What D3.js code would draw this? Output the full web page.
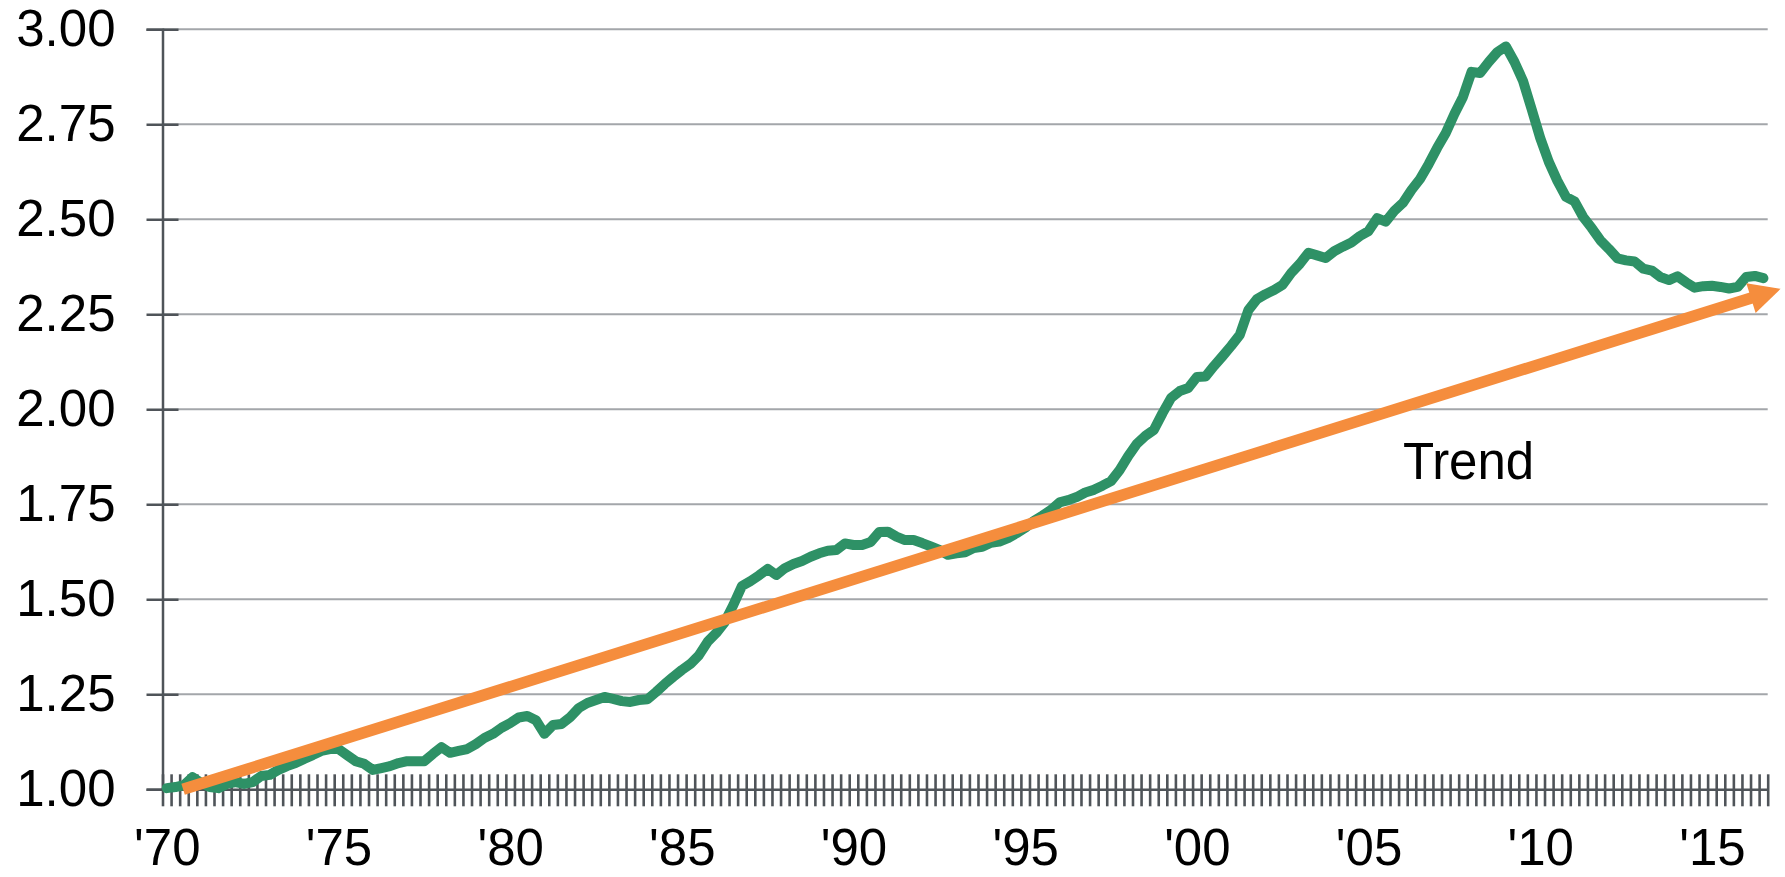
<!DOCTYPE html>
<html lang="en">
    <head>
        <meta charset="UTF-8">
        <style>
            html, body{
                margin: 0;
                padding: 0;
                background: #fff;
                font-family: 'Liberation Sans', Arial, sans-serif;
            }
            #chart text{
                font-size: 51px;
                fill: #000;
            }
        </style>
    </head>
    <body>
        <svg id="chart" width="1785" height="877"></svg>

        <script src="https://d3js.org/d3.v7.min.js"></script>
        <script>
            // quarterly index, 1970 Q1 .. 2016 Q3 (one row per year)
            const values = [
                1.003, 1.006, 1.011, 1.032,   1.017, 1.006, 1.003, 1.014,
                1.019, 1.014, 1.019, 1.035,   1.038, 1.051, 1.061, 1.069,
                1.080, 1.090, 1.101, 1.106,   1.106, 1.090, 1.074, 1.067,
                1.051, 1.056, 1.061, 1.069,   1.074, 1.074, 1.074, 1.093,
                1.111, 1.096, 1.101, 1.106,   1.119, 1.135, 1.146, 1.162,
                1.174, 1.189, 1.193, 1.182,   1.146, 1.169, 1.172, 1.190,
                1.214, 1.227, 1.235, 1.243,   1.238, 1.232, 1.230, 1.235,
                1.237, 1.256, 1.277, 1.296,   1.314, 1.330, 1.353, 1.388,
                1.411, 1.440, 1.485, 1.535,   1.548, 1.563, 1.580, 1.564,
                1.582, 1.593, 1.601, 1.612,   1.621, 1.628, 1.630, 1.647,
                1.643, 1.643, 1.651, 1.677,   1.678, 1.665, 1.656, 1.656,
                1.648, 1.639, 1.630, 1.617,   1.621, 1.624, 1.635, 1.638,
                1.649, 1.652, 1.661, 1.674,   1.688, 1.706, 1.720, 1.735,
                1.755, 1.761, 1.769, 1.781,   1.788, 1.799, 1.811, 1.840,
                1.877, 1.909, 1.930, 1.946,   1.990, 2.030, 2.048, 2.056,
                2.085, 2.086, 2.114, 2.140,   2.167, 2.196, 2.261, 2.290,
                2.303, 2.314, 2.328, 2.359,   2.383, 2.412, 2.405, 2.398,
                2.416, 2.428, 2.439, 2.456,   2.469, 2.503, 2.494, 2.522,
                2.543, 2.577, 2.606, 2.645,   2.688, 2.727, 2.777, 2.822,
                2.888, 2.885, 2.914, 2.940,   2.955, 2.914, 2.864, 2.790,
                2.714, 2.651, 2.601, 2.559,   2.547, 2.506, 2.477, 2.445,
                2.422, 2.397, 2.392, 2.389,   2.370, 2.365, 2.348, 2.340,
                2.350, 2.334, 2.320, 2.324,   2.325, 2.322, 2.318, 2.322,
                2.348, 2.351, 2.345
            ]
            const quarters = values.map((v, i) => (1970 + Math.floor(i / 4)) + 'Q' + (i % 4 + 1))
            const yTicks = [1.00, 1.25, 1.50, 1.75, 2.00, 2.25, 2.50, 2.75, 3.00]
            const xTickLabels = ["'70", "'75", "'80", "'85", "'90", "'95", "'00", "'05", "'10", "'15"]
            const labelEvery = 20
            // trend arrow: [quarter position, value]
            const trendStart = [1.9, 1.0]
            const trendEnd = [188.0, 2.317]
            const trendLabel = {text: 'Trend', q: 144.5, v: 1.816}

            const settings = {
                left: 162.5, right: 1767.7, top: 29.3, bottom: 789.3,
                green: '#2e9166', orange: '#f58d3d', axis: '#4f5459', grid: '#a3a6aa'
            }

            const svg = d3.select('#chart')
            const n = quarters.length
            // position scale on quarter boundaries; point i sits at i + 0.5
            const x = d3.scaleLinear().domain([0, n]).range([settings.left, settings.right])
            const y = d3.scaleLinear().domain([1, 3]).range([settings.bottom, settings.top])

            // gridlines
            svg.append('g').selectAll('line')
                .data(yTicks.slice(1))
                .join('line')
                .attr('x1', settings.left).attr('x2', settings.right)
                .attr('y1', d => y(d)).attr('y2', d => y(d))
                .attr('stroke', settings.grid).attr('stroke-width', 2)

            // y axis with crossing ticks
            const yAxis = svg.append('g')
                .attr('transform', `translate(${settings.left},0)`)
                .call(d3.axisLeft(y).tickValues(yTicks).tickFormat(d3.format('.2f')).tickSize(16).tickPadding(31))
            yAxis.select('.domain').attr('stroke', settings.axis).attr('stroke-width', 2.5)
            yAxis.selectAll('.tick line').attr('x1', 16).attr('stroke', settings.axis).attr('stroke-width', 2.5)
            yAxis.selectAll('text').attr('font-size', null).attr('font-family', null)

            // x axis: crossing tick at every quarter boundary
            const xAxis = svg.append('g')
                .attr('transform', `translate(0,${settings.bottom})`)
                .call(d3.axisBottom(x).tickValues(d3.range(n + 1)).tickFormat('').tickSize(17).tickSizeOuter(0))
            xAxis.select('.domain').attr('stroke', settings.axis).attr('stroke-width', 2.5)
            xAxis.selectAll('.tick line').attr('y1', -15).attr('stroke', settings.axis).attr('stroke-width', 2.6)

            // x labels at the centre of every 20th quarter
            const xLabels = svg.append('g')
                .attr('transform', `translate(0,${settings.bottom})`)
                .call(d3.axisBottom(x)
                    .tickValues(xTickLabels.map((d, k) => k * labelEvery + 0.5))
                    .tickFormat((d, k) => xTickLabels[k])
                    .tickSize(0).tickPadding(39.5))
            xLabels.select('.domain').remove()
            xLabels.selectAll('text').attr('font-size', null).attr('font-family', null)

            // data line
            svg.append('path')
                .datum(values)
                .attr('d', d3.line().x((d, i) => x(i + 0.5)).y(d => y(d)))
                .attr('fill', 'none')
                .attr('stroke', settings.green)
                .attr('stroke-width', 10)
                .attr('stroke-linejoin', 'round')
                .attr('stroke-linecap', 'round')

            // trend arrow
            const p0 = [x(trendStart[0] + 0.5), y(trendStart[1])]
            const p1 = [x(trendEnd[0] + 0.5), y(trendEnd[1])]
            const len = Math.hypot(p1[0] - p0[0], p1[1] - p0[1])
            const ux = (p1[0] - p0[0]) / len, uy = (p1[1] - p0[1]) / len
            const headLen = 31, headHalf = 15.5
            const base = [p1[0] - ux * headLen, p1[1] - uy * headLen]
            svg.append('line')
                .attr('x1', p0[0]).attr('y1', p0[1])
                .attr('x2', base[0] + ux * 2).attr('y2', base[1] + uy * 2)
                .attr('stroke', settings.orange).attr('stroke-width', 11.5)
            svg.append('path')
                .attr('d', d3.line()([
                    p1,
                    [base[0] - uy * headHalf, base[1] + ux * headHalf],
                    [base[0] + uy * headHalf, base[1] - ux * headHalf]
                ]) + 'Z')
                .attr('fill', settings.orange)

            svg.append('text')
                .attr('x', x(trendLabel.q))
                .attr('y', y(trendLabel.v))
                .text(trendLabel.text)
        </script>
    </body>
</html>
